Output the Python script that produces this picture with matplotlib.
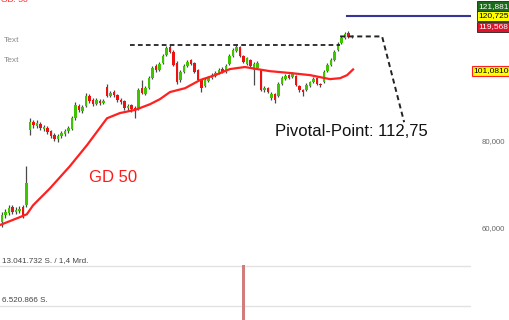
import numpy as np
import matplotlib.pyplot as plt
from matplotlib.ticker import NullLocator, NullFormatter

plt.rcParams['font.family'] = ['Liberation Sans', 'DejaVu Sans']

# ============================================
# Kursdaten (Tageskerzen, Index = Handelstag)
# ============================================
opens = [61.0, 62.4, 62.8, 64.1, 63.0, 63.2, 64.1, 64.5,
         82.7, 84.9, 83.8, 84.4, 83.0, 83.2, 82.4, 81.3, 80.3, 81.1, 81.6, 82.4,
         83.0, 86.0, 89.5, 88.1, 89.5, 92.5, 91.3, 90.1, 91.0, 90.4,
         95.3, 92.5, 93.8, 92.9, 91.3, 91.0, 88.9, 89.8, 88.9, 88.9,
         95.0, 93.2, 95.0, 98.2, 102.2, 100.9, 103.2, 106.0, 108.9, 107.1,
         103.2, 97.6, 100.2, 102.2, 104.3, 103.2, 100.9, 97.6, 95.7, 97.3,
         98.2, 98.9, 99.9, 101.2, 100.2, 102.9, 105.7, 107.4, 108.9, 105.7,
         102.9, 104.3, 100.9, 101.5, 100.9, 94.4, 95.0, 91.9, 93.2, 92.5,
         96.3, 97.9, 99.2, 98.6, 98.9, 95.7, 94.4, 94.4, 95.7, 96.9,
         98.2, 96.3, 96.9, 100.5, 102.6, 104.3, 107.8, 110.3, 112.1, 114.0,
         112.9]
closes = [62.4, 63.0, 63.9, 63.0, 63.4, 63.7, 62.4, 69.4,
          84.9, 84.1, 84.6, 83.2, 83.5, 82.1, 81.1, 80.3, 81.1, 81.9, 82.4, 83.2,
          86.0, 89.8, 88.4, 89.2, 92.5, 91.0, 90.1, 91.3, 90.4, 91.0,
          92.5, 93.5, 92.9, 91.3, 90.7, 88.9, 89.5, 88.6, 88.4, 94.4,
          93.5, 95.0, 98.2, 101.5, 100.9, 102.9, 105.7, 108.5, 107.1, 102.6,
          96.9, 100.2, 102.2, 103.6, 102.9, 100.2, 97.6, 95.0, 97.6, 98.2,
          99.2, 99.9, 100.9, 100.2, 102.2, 105.7, 107.8, 108.9, 105.7, 103.6,
          105.0, 102.2, 102.9, 103.2, 94.4, 95.0, 93.8, 93.2, 91.3, 96.3,
          98.2, 98.9, 98.2, 99.5, 96.0, 94.4, 93.8, 96.0, 96.9, 97.9,
          96.3, 96.0, 100.2, 102.6, 104.3, 107.1, 109.9, 112.1, 113.6, 112.5,
          112.7]
highs = [63.0, 63.7, 64.5, 64.5, 64.1, 64.3, 64.5, 73.4,
         86.0, 85.5, 85.5, 84.9, 84.1, 83.8, 82.7, 81.9, 81.6, 82.4, 83.0, 83.8,
         86.6, 90.7, 90.1, 89.8, 93.5, 93.2, 91.9, 91.9, 91.6, 91.6,
         96.3, 94.1, 94.4, 93.2, 91.9, 91.3, 90.1, 90.1, 89.5, 95.0,
         97.6, 95.7, 98.9, 102.2, 102.9, 103.6, 106.4, 109.2, 109.6, 107.8,
         103.9, 100.9, 102.9, 104.3, 104.6, 103.6, 101.2, 97.9, 98.2, 98.9,
         99.9, 100.5, 101.5, 101.9, 102.9, 106.4, 108.5, 109.6, 109.2, 106.0,
         105.4, 104.6, 103.6, 103.9, 101.2, 95.7, 95.3, 93.8, 93.5, 96.9,
         98.9, 99.5, 99.5, 100.2, 99.2, 96.0, 94.7, 96.6, 97.3, 98.6,
         98.6, 96.6, 100.9, 103.2, 105.0, 107.8, 110.6, 112.9, 114.4, 114.8,
         113.3]
lows = [60.0, 61.8, 62.4, 62.6, 62.6, 62.8, 61.8, 64.1,
        81.3, 83.2, 83.2, 82.7, 82.4, 81.6, 80.6, 79.7, 79.5, 80.6, 81.1, 81.9,
        82.7, 85.5, 87.8, 87.5, 89.2, 90.4, 89.5, 89.8, 89.8, 90.1,
        92.2, 92.2, 92.2, 90.7, 90.1, 88.4, 88.1, 87.8, 86.0, 88.4,
        93.2, 92.9, 94.7, 97.9, 100.2, 100.5, 102.9, 105.7, 106.7, 102.2,
        96.3, 96.9, 99.9, 101.9, 102.6, 99.9, 97.3, 93.8, 95.3, 96.9,
        97.9, 98.6, 99.5, 99.9, 99.9, 102.6, 105.4, 107.1, 105.4, 103.2,
        102.6, 101.9, 96.0, 101.2, 94.1, 93.8, 93.5, 91.3, 90.4, 92.2,
        96.0, 97.6, 97.9, 98.2, 95.7, 93.8, 92.5, 94.1, 95.3, 96.6,
        96.0, 95.3, 96.6, 100.2, 102.2, 103.9, 107.4, 109.9, 111.8, 112.1,
        112.1]

# GD 50 (gleitender Durchschnitt)
gd50_day = [-0.6, 5.1, 7.1, 8.9, 13.7, 19.4, 24.3, 30.0, 33.7, 38.0, 42.3, 45.1, 48.0,
            52.3, 56.6, 60.9, 65.1, 69.4, 72.9, 76.6, 82.3, 88.0, 93.7, 96.6, 98.6, 100.3]
gd50 = [60.4, 62.0, 62.6, 64.5, 68.2, 73.4, 78.7, 86.0, 87.5, 88.4, 90.1, 91.6, 93.8,
        95.0, 97.6, 99.2, 101.2, 101.9, 101.2, 100.5, 99.9, 99.2, 97.9, 98.2, 99.2, 101.081]

# Linien
resistance = 109.5
resistance_days = [36.6, 96.6]
pivot = 112.75
pivot_days = [96.6, 108.6, 114.9]
pivot_prices = [112.75, 112.75, 84.9]
quote_days = [98.6, 134.0]

# Kurse rechts
quotes = [121.881, 120.725, 119.568]
quote_text = ['121,881', '120,725', '119,568']
quote_bg = ['#1b6b1b', '#ffff00', '#e3102a']
quote_fg = ['white', 'black', 'white']
quote_shift = [4.5, 0, -6]   # Labels gestapelt, in pt
gd50_label = '101,08100'

price_ticks = [60, 80]
price_tick_labels = ['60,000', '80,000']

# Volumen
vol_day = [69]
vol_shares = [13200000]
vol_grid = [6520866, 13041732]
vol_grid_labels = ['6.520.866 S.', '13.041.732 S. / 1,4 Mrd.']

# ============================================
# Figur
# ============================================
fig = plt.figure(figsize=(5.1, 3.2), dpi=100)
ax = fig.add_axes([0, 1 - 255 / 320, 471 / 510, 255 / 320])
axv = fig.add_axes([0, 0, 471 / 510, 65 / 320], sharex=ax)

days = np.arange(len(closes))
o = np.array(opens)
c = np.array(closes)
up = c >= o
body_col = np.where(up, '#3ec400', '#ee1111')

ax.vlines(days, lows, highs, color='#4a4a4a', linewidth=0.9, zorder=2)
ax.bar(days, np.maximum(np.abs(c - o), 0.35), bottom=np.minimum(o, c), width=0.85,
       color=body_col, linewidth=0, zorder=3)

ax.plot(gd50_day, gd50, color='#ff2020', linewidth=1.6, zorder=4)

ax.plot(resistance_days, [resistance] * 2, color='#222222', linewidth=1.3,
        dashes=(2.6, 1.8), zorder=5)
ax.plot(pivot_days, pivot_prices, color='#222222', linewidth=1.4,
        dashes=(2.6, 1.8), zorder=5)
ax.plot(quote_days, [quotes[1]] * 2, color='#35359a', linewidth=1.5, zorder=5)

ax.text(24.9, 70.8, 'GD 50', fontsize=12, color='#ff1a1a', ha='left', va='center')
ax.text(78.0, 82.2, 'Pivotal-Point: ' + f'{pivot:.2f}'.replace('.', ','),
        fontsize=12, color='#111111', ha='left', va='center')

ax.set_yscale('log')
ax.set_xlim(-0.571, 134.0)
ax.set_ylim(54.7, 127.2)
ax.yaxis.tick_right()
ax.set_yticks(price_ticks)
ax.set_yticklabels(price_tick_labels)
ax.yaxis.set_minor_locator(NullLocator())
ax.yaxis.set_minor_formatter(NullFormatter())
ax.tick_params(axis='y', length=0, pad=7.5, labelsize=5.6, labelcolor='#666666')
ax.tick_params(axis='x', length=0, labelbottom=False)
for s in ax.spines.values():
    s.set_visible(False)

# Kurs-Labels am rechten Rand
ytrans = ax.get_yaxis_transform()
for q, t, bg, fg, dy in zip(quotes, quote_text, quote_bg, quote_fg, quote_shift):
    ax.annotate(t, xy=(1.0, q), xycoords=ytrans, xytext=(5.4, dy), textcoords='offset points',
                fontsize=6, color=fg, ha='left', va='center', annotation_clip=False,
                bbox=dict(boxstyle='square,pad=0.2', fc=bg, ec='#222222', lw=0.6))
ax.annotate(gd50_label, xy=(1.0, gd50[-1]), xycoords=ytrans, xytext=(2.0, -1), textcoords='offset points',
            fontsize=6, color='black', ha='left', va='center', annotation_clip=False,
            bbox=dict(boxstyle='square,pad=0.2', fc='#ffff00', ec='#ff2020', lw=0.8))

# Volumen-Panel
axv.bar(vol_day, vol_shares, width=0.9, color='#cf7d7d', linewidth=0)
axv.set_ylim(4.24e6, 14.83e6)
axv.set_yticks(vol_grid)
axv.grid(axis='y', color='#e2e2e2', linewidth=1.0)
axv.set_axisbelow(True)
axv.tick_params(length=0, labelleft=False, labelbottom=False)
for s in axv.spines.values():
    s.set_visible(False)
vtrans = axv.get_yaxis_transform()
for v, lab in zip(vol_grid, vol_grid_labels):
    axv.annotate(lab, xy=(0.0, v), xycoords=vtrans, xytext=(1.5, 1.5), textcoords='offset points',
                 fontsize=5.8, color='#444444', ha='left', va='bottom')

# Text oben links
fig.text(1 / 510, 1 - 0.5 / 320, 'GD: 50', fontsize=6, color='#ff2020', va='center')
fig.text(4 / 510, 1 - 41 / 320, 'Text', fontsize=6, color='#8a8a8a', va='center')
fig.text(4 / 510, 1 - 61 / 320, 'Text', fontsize=6, color='#8a8a8a', va='center')

fig.savefig('out.png', dpi=100)
